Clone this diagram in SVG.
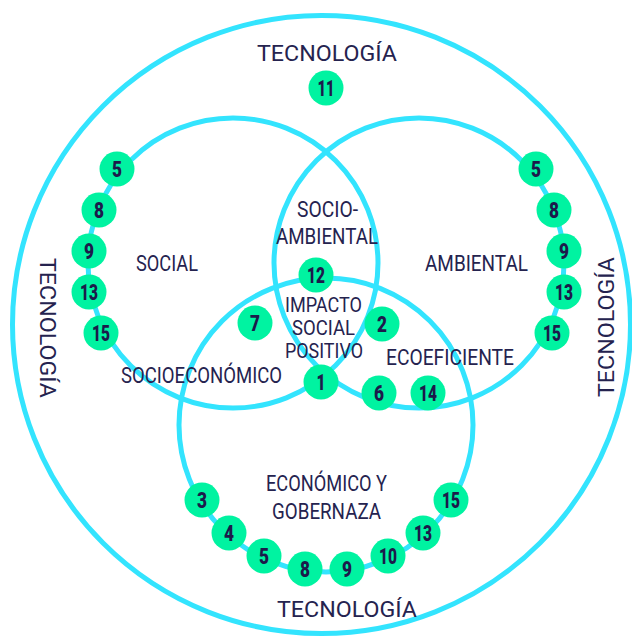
<svg xmlns="http://www.w3.org/2000/svg" width="632" height="639" viewBox="0 0 632 639">
<defs>
<style>
.ring{fill:none;stroke:#33e4fe;stroke-width:5}
.badge circle{fill:#00f3a1}
.num{font-family:Roboto,"Liberation Sans",sans-serif;font-weight:900;font-size:22px;fill:#1c1a4b;text-anchor:middle}
.lbl{font-family:Roboto,"Liberation Sans",sans-serif;font-weight:400;font-size:22px;fill:#25234f;text-anchor:middle}
.tight{font-size:20px}
</style>
</defs>
<rect width="632" height="639" fill="#ffffff"/>
<g id="circles">
<circle id="outer" class="ring" cx="321.5" cy="324.5" r="309"/>
<circle id="social-circle" class="ring" cx="233" cy="263" r="145"/>
<circle id="ambiental-circle" class="ring" cx="419" cy="263" r="145"/>
<circle id="economico-circle" class="ring" cx="326" cy="425" r="147"/>
</g>
<g id="labels">
<text class="lbl" x="327" y="61" textLength="140" lengthAdjust="spacingAndGlyphs">TECNOLOGÍA</text>
<text class="lbl" x="347" y="617" textLength="140" lengthAdjust="spacingAndGlyphs">TECNOLOGÍA</text>
<text class="lbl" transform="translate(40,328) rotate(90)" x="0" y="0" textLength="140" lengthAdjust="spacingAndGlyphs">TECNOLOGÍA</text>
<text class="lbl" transform="translate(614,327) rotate(-90)" x="0" y="0" textLength="140" lengthAdjust="spacingAndGlyphs">TECNOLOGÍA</text>
<text class="lbl" x="167" y="271" textLength="62" lengthAdjust="spacingAndGlyphs">SOCIAL</text>
<text class="lbl" x="476.5" y="271" textLength="103" lengthAdjust="spacingAndGlyphs">AMBIENTAL</text>
<text class="lbl" x="327.5" y="217" textLength="61" lengthAdjust="spacingAndGlyphs">SOCIO-</text>
<text class="lbl" x="327" y="244" textLength="102" lengthAdjust="spacingAndGlyphs">AMBIENTAL</text>
<text class="lbl tight" x="323.5" y="312" textLength="77" lengthAdjust="spacingAndGlyphs">IMPACTO</text>
<text class="lbl tight" x="323.5" y="335" textLength="63" lengthAdjust="spacingAndGlyphs">SOCIAL</text>
<text class="lbl tight" x="324" y="358" textLength="78" lengthAdjust="spacingAndGlyphs">POSITIVO</text>
<text class="lbl" x="201.5" y="383" textLength="161" lengthAdjust="spacingAndGlyphs">SOCIOECONÓMICO</text>
<text class="lbl" x="450" y="365" textLength="128" lengthAdjust="spacingAndGlyphs">ECOEFICIENTE</text>
<text class="lbl" x="326.5" y="491" textLength="121" lengthAdjust="spacingAndGlyphs">ECONÓMICO Y</text>
<text class="lbl" x="326.5" y="519" textLength="109" lengthAdjust="spacingAndGlyphs">GOBERNAZA</text>
</g>
<g id="connectors"></g>
<g id="b-t11" class="badge"><circle cx="326" cy="88" r="17.5"/><text class="num" x="326" y="96" textLength="17" lengthAdjust="spacingAndGlyphs">11</text></g>
<g id="b-s5" class="badge"><circle cx="117" cy="169" r="17.5"/><text class="num" x="117" y="177" textLength="10" lengthAdjust="spacingAndGlyphs">5</text></g>
<g id="b-s8" class="badge"><circle cx="99" cy="210" r="17.5"/><text class="num" x="99" y="218" textLength="10" lengthAdjust="spacingAndGlyphs">8</text></g>
<g id="b-s9" class="badge"><circle cx="89" cy="251" r="17.5"/><text class="num" x="89" y="259" textLength="10" lengthAdjust="spacingAndGlyphs">9</text></g>
<g id="b-s13" class="badge"><circle cx="89" cy="292" r="17.5"/><text class="num" x="89" y="300" textLength="18" lengthAdjust="spacingAndGlyphs">13</text></g>
<g id="b-s15" class="badge"><circle cx="101" cy="333" r="17.5"/><text class="num" x="101" y="341" textLength="18" lengthAdjust="spacingAndGlyphs">15</text></g>
<g id="b-a5" class="badge"><circle cx="536" cy="169" r="17.5"/><text class="num" x="536" y="177" textLength="10" lengthAdjust="spacingAndGlyphs">5</text></g>
<g id="b-a8" class="badge"><circle cx="554" cy="210" r="17.5"/><text class="num" x="554" y="218" textLength="10" lengthAdjust="spacingAndGlyphs">8</text></g>
<g id="b-a9" class="badge"><circle cx="564" cy="251" r="17.5"/><text class="num" x="564" y="259" textLength="10" lengthAdjust="spacingAndGlyphs">9</text></g>
<g id="b-a13" class="badge"><circle cx="564" cy="292" r="17.5"/><text class="num" x="564" y="300" textLength="18" lengthAdjust="spacingAndGlyphs">13</text></g>
<g id="b-a15" class="badge"><circle cx="552" cy="333" r="17.5"/><text class="num" x="552" y="341" textLength="18" lengthAdjust="spacingAndGlyphs">15</text></g>
<g id="b-c12" class="badge"><circle cx="316" cy="275" r="17.5"/><text class="num" x="316" y="283" textLength="18" lengthAdjust="spacingAndGlyphs">12</text></g>
<g id="b-c7" class="badge"><circle cx="255" cy="323" r="17.5"/><text class="num" x="255" y="331" textLength="10" lengthAdjust="spacingAndGlyphs">7</text></g>
<g id="b-c2" class="badge"><circle cx="382" cy="324" r="17.5"/><text class="num" x="382" y="332" textLength="10" lengthAdjust="spacingAndGlyphs">2</text></g>
<g id="b-c1" class="badge"><circle cx="321" cy="382" r="17.5"/><text class="num" x="321" y="390" textLength="9" lengthAdjust="spacingAndGlyphs">1</text></g>
<g id="b-c6" class="badge"><circle cx="379" cy="393" r="17.5"/><text class="num" x="379" y="401" textLength="10" lengthAdjust="spacingAndGlyphs">6</text></g>
<g id="b-c14" class="badge"><circle cx="428" cy="393" r="17.5"/><text class="num" x="428" y="401" textLength="18" lengthAdjust="spacingAndGlyphs">14</text></g>
<g id="b-e3" class="badge"><circle cx="202" cy="500" r="17.5"/><text class="num" x="202" y="508" textLength="10" lengthAdjust="spacingAndGlyphs">3</text></g>
<g id="b-e4" class="badge"><circle cx="229" cy="533" r="17.5"/><text class="num" x="229" y="541" textLength="10" lengthAdjust="spacingAndGlyphs">4</text></g>
<g id="b-e5" class="badge"><circle cx="264" cy="556" r="17.5"/><text class="num" x="264" y="564" textLength="10" lengthAdjust="spacingAndGlyphs">5</text></g>
<g id="b-e8" class="badge"><circle cx="305" cy="569" r="17.5"/><text class="num" x="305" y="577" textLength="10" lengthAdjust="spacingAndGlyphs">8</text></g>
<g id="b-e9" class="badge"><circle cx="347" cy="569" r="17.5"/><text class="num" x="347" y="577" textLength="10" lengthAdjust="spacingAndGlyphs">9</text></g>
<g id="b-e10" class="badge"><circle cx="388" cy="556" r="17.5"/><text class="num" x="388" y="564" textLength="18" lengthAdjust="spacingAndGlyphs">10</text></g>
<g id="b-e13" class="badge"><circle cx="423" cy="533" r="17.5"/><text class="num" x="423" y="541" textLength="18" lengthAdjust="spacingAndGlyphs">13</text></g>
<g id="b-e15" class="badge"><circle cx="451" cy="500" r="17.5"/><text class="num" x="451" y="508" textLength="18" lengthAdjust="spacingAndGlyphs">15</text></g>
</svg>
